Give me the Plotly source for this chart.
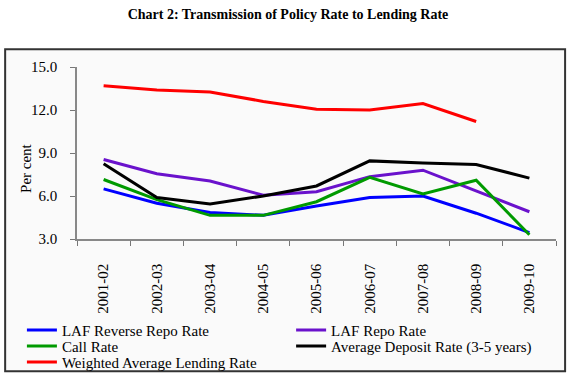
import plotly.graph_objects as go

years = ["2001-02", "2002-03", "2003-04", "2004-05", "2005-06",
         "2006-07", "2007-08", "2008-09", "2009-10"]
reverse_repo = [6.5, 5.5, 4.85, 4.65, 5.3, 5.9, 6.0, 4.8, 3.45]
repo = [8.55, 7.55, 7.05, 6.05, 6.3, 7.35, 7.8, 6.35, 4.9]
call_rate = [7.15, 5.75, 4.65, 4.65, 5.6, 7.3, 6.15, 7.1, 3.3]
deposit = [8.25, 5.9, 5.45, 6.0, 6.7, 8.45, 8.3, 8.2, 7.25]
lending = [13.7, 13.4, 13.25, 12.6, 12.05, 12.0, 12.45, 11.2, None]

tick_vals = [3, 6, 9, 12, 15]
tick_text = ["3.0", "6.0", "9.0", "12.0", "15.0"]

series = [
    ("LAF Reverse Repo Rate", reverse_repo, "#0000ff", "legend"),
    ("LAF Repo Rate", repo, "#6a12cc", "legend2"),
    ("Call Rate", call_rate, "#009a00", "legend3"),
    ("Average Deposit Rate (3-5 years)", deposit, "#000000", "legend4"),
    ("Weighted Average Lending Rate", lending, "#ff0000", "legend5"),
]

fig = go.Figure()
for name, vals, col, lg in series:
    fig.add_trace(go.Scatter(x=years, y=vals, name=name, mode="lines", legend=lg,
                             line=dict(color=col, width=3), connectgaps=False))

font = "Liberation Serif, Times New Roman, serif"
legend_common = dict(orientation="v", yanchor="top", xanchor="left",
                     tracegroupgap=0, itemwidth=30,
                     font=dict(family=font, size=15, color="black"),
                     bgcolor="rgba(0,0,0,0)", borderwidth=0)
left_x, right_x = -0.115, 0.447
row_y = [-0.435, -0.528, -0.621]
fig.update_layout(
    width=576, height=382,
    margin=dict(l=77, r=20, t=67, b=143, autoexpand=False),
    paper_bgcolor="white", plot_bgcolor="rgba(0,0,0,0)",
    font=dict(family=font, size=14, color="black"),
    title=dict(text="<b>Chart 2: Transmission of Policy Rate to Lending Rate</b>",
               x=0.5, xref="container", xanchor="center", y=0.962, yanchor="middle",
               font=dict(family=font, size=14, color="black")),
    showlegend=True,
    legend=dict(x=left_x, y=row_y[0], **legend_common),
    legend2=dict(x=right_x, y=row_y[0], **legend_common),
    legend3=dict(x=left_x, y=row_y[1], **legend_common),
    legend4=dict(x=right_x, y=row_y[1], **legend_common),
    legend5=dict(x=left_x, y=row_y[2], **legend_common),
    xaxis=dict(type="category", tickson="boundaries", ticks="outside", ticklen=5,
               tickcolor="#777", showline=True, linecolor="#888", linewidth=1.5,
               showgrid=False, tickangle=-90, range=[-0.5, 8.5],
               ticklabelstandoff=17,
               tickfont=dict(family=font, size=15)),
    yaxis=dict(range=[3, 15], tickvals=tick_vals, ticktext=tick_text,
               ticks="outside", ticklen=5, tickcolor="#777", showline=True,
               linecolor="#888", linewidth=1.5, showgrid=False, zeroline=False,
               ticklabelstandoff=10,
               tickfont=dict(family=font, size=15)),
)

fig.add_annotation(text="Per cent", textangle=-90, xref="paper", yref="paper",
                   x=-0.1065, y=0.413, xanchor="center", yanchor="middle",
                   showarrow=False, font=dict(family=font, size=15, color="black"))

fig.add_shape(type="rect", xref="paper", yref="paper",
              x0=-0.150, x1=1.019, y0=-0.769, y1=1.103,
              line=dict(color="#333", width=2), fillcolor="#fafafa", layer="below")

fig.write_html("out.html", config={"displayModeBar": False},
               post_script="document.body.style.margin='0';")
